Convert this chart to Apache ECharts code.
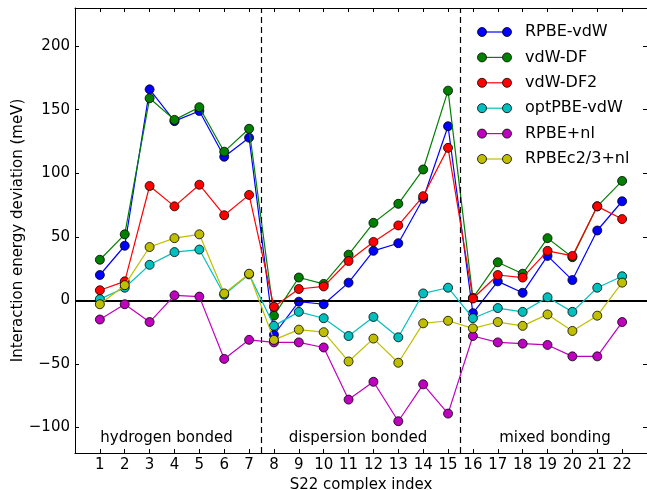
<!DOCTYPE html>
<html>
<head>
<meta charset="utf-8">
<script src="https://cdn.jsdelivr.net/npm/echarts@6/dist/echarts.min.js"></script>
<style>html,body{margin:0;padding:0;background:#fff}#c{width:647px;height:490px}</style>
</head>
<body>
<div id="c"></div>
<script>
const complexIndex = [1,2,3,4,5,6,7,8,9,10,11,12,13,14,15,16,17,18,19,20,21,22];
const seriesNames = ['RPBE-vdW','vdW-DF','vdW-DF2','optPBE-vdW','RPBE+nl','RPBEc2/3+nl'];
const seriesColors = ['#0000ff','#008000','#ff0000','#00bfbf','#bf00bf','#bfbf00'];
const rpbeVdw   = [20, 43, 166, 141, 149, 113, 128, -27, -1, -3, 14, 39, 45, 80, 137, -10, 15, 6, 35, 16, 55, 78];
const vdwDf     = [32, 52, 159, 142, 152, 117, 135, -12, 18, 13, 36, 61, 76, 103, 165, 2, 30, 21, 49, 34, 74, 94];
const vdwDf2    = [8, 15, 90, 74, 91, 67, 83, -5, 9, 11, 31, 46, 59, 82, 120, 1.5, 20, 18, 39, 35, 74, 64];
const optPbeVdw = [1, 10, 28, 38, 40, 4.5, 20.5, -20, -9, -14, -28, -13, -29, 5.5, 10, -14, -6, -9, 2.5, -9, 10, 19];
const rpbeNl    = [-15, -3, -17, 4, 3, -46, -31, -33, -33, -37, -78, -64, -95, -66, -89, -28, -33, -34, -35, -44, -44, -17];
const rpbeC23Nl = [-3, 12, 42, 49, 52, 5.5, 21, -31, -23, -25, -48, -30, -49, -18, -16, -22, -17, -20, -11, -24, -12, 14];
const allValues = [rpbeVdw, vdwDf, vdwDf2, optPbeVdw, rpbeNl, rpbeC23Nl];
const yTicks = [-100, -50, 0, 50, 100, 150, 200];
const groupBounds = [7.5, 15.5];
const groupLabels = ['hydrogen bonded', 'dispersion bonded', 'mixed bonding'];
const groupLabelX = [3.68, 11.38, 19.3];
const groupLabelY = -108;

const FONT = 'DejaVu Sans';
const chart = echarts.init(document.getElementById('c'), null, {renderer: 'canvas'});

const fmtY = v => v < 0 ? '\u2212' + Math.abs(v) : String(v);

const series = allValues.map((vals, i) => ({
  name: seriesNames[i],
  type: 'line',
  z: 3 + i,
  data: complexIndex.map((x, j) => [x, vals[j]]),
  symbol: 'circle',
  symbolSize: 9,
  showSymbol: true,
  animation: false,
  lineStyle: {color: seriesColors[i], width: 1.2},
  itemStyle: {color: seriesColors[i], borderColor: '#000', borderWidth: 0.8},
  emphasis: {disabled: true}
}));

series.unshift({
  name: 'ref', type: 'line', data: [], z: 2, animation: false,
  markLine: {
    silent: true, symbol: 'none', animation: false,
    label: {show: false},
    data: [
      {yAxis: 0, lineStyle: {color: '#000', width: 2, type: 'solid'}},
      ...groupBounds.map(b => ({xAxis: b, lineStyle: {color: '#000', width: 1.2, type: [6, 4]}}))
    ]
  }
});

const axisLine = {show: true, onZero: false, lineStyle: {color: '#000', width: 1}};

chart.setOption({
  animation: false,
  grid: {left: 75, right: 0, top: 8, bottom: 37, containLabel: false, outerBoundsMode: 'none'},
  xAxis: [
    {
      type: 'value', min: 0, max: 23, interval: 1, position: 'bottom',
      axisLine: axisLine, splitLine: {show: false},
      axisTick: {show: true, inside: true, length: 4, lineStyle: {color: '#000'}},
      axisLabel: {color: '#000', fontFamily: FONT, fontSize: 15, margin: 5,
        formatter: v => (v >= 1 && v <= 22) ? String(v) : ''},
      name: 'S22 complex index', nameLocation: 'middle', nameGap: 22,
      nameTextStyle: {color: '#000', fontFamily: FONT, fontSize: 15}
    },
    {
      type: 'value', min: 0, max: 23, interval: 1, position: 'top',
      axisLine: axisLine, splitLine: {show: false},
      axisTick: {show: true, inside: true, length: 4, lineStyle: {color: '#000'}},
      axisLabel: {show: false}
    }
  ],
  yAxis: [
    {
      type: 'value', min: -120, max: 230, position: 'left',
      axisLine: axisLine, splitLine: {show: false},
      axisTick: {show: true, inside: true, length: 4, customValues: yTicks, lineStyle: {color: '#000'}},
      axisLabel: {color: '#000', fontFamily: FONT, fontSize: 15, margin: 5, customValues: yTicks, formatter: fmtY},
      name: 'Interaction energy deviation (meV)', nameLocation: 'middle', nameGap: 49, nameMoveOverlap: false,
      nameTextStyle: {color: '#000', fontFamily: FONT, fontSize: 15}
    },
    {
      type: 'value', min: -120, max: 230, position: 'right',
      axisLine: axisLine, splitLine: {show: false},
      axisTick: {show: true, inside: true, length: 4, customValues: yTicks, lineStyle: {color: '#000'}},
      axisLabel: {show: false}
    }
  ],
  series: series
});

// annotations and legend
const graphics = [];
groupLabels.forEach((t, i) => {
  const p = chart.convertToPixel({xAxisIndex: 0, yAxisIndex: 0}, [groupLabelX[i], groupLabelY]);
  graphics.push({type: 'text', x: p[0], y: p[1], z: 20,
    style: {text: t, fill: '#000', font: '15px "DejaVu Sans"', textAlign: 'center', textVerticalAlign: 'middle'}});
});
const legX0 = 482, legX1 = 507, legTextX = 525, legY0 = 32, legDy = 25.4;
seriesNames.forEach((n, i) => {
  const y = legY0 + i * legDy;
  graphics.push({type: 'line', z: 20, shape: {x1: legX0, y1: y, x2: legX1, y2: y}, style: {stroke: seriesColors[i], lineWidth: 1.2}});
  [legX0, legX1].forEach(x => graphics.push({type: 'circle', z: 21, shape: {cx: x, cy: y, r: 4.5},
    style: {fill: seriesColors[i], stroke: '#000', lineWidth: 0.8}}));
  graphics.push({type: 'text', z: 21, x: legTextX, y: y,
    style: {text: n, fill: '#000', font: '16px "DejaVu Sans"', textVerticalAlign: 'middle'}});
});
chart.setOption({graphic: graphics});
</script>
</body>
</html>
